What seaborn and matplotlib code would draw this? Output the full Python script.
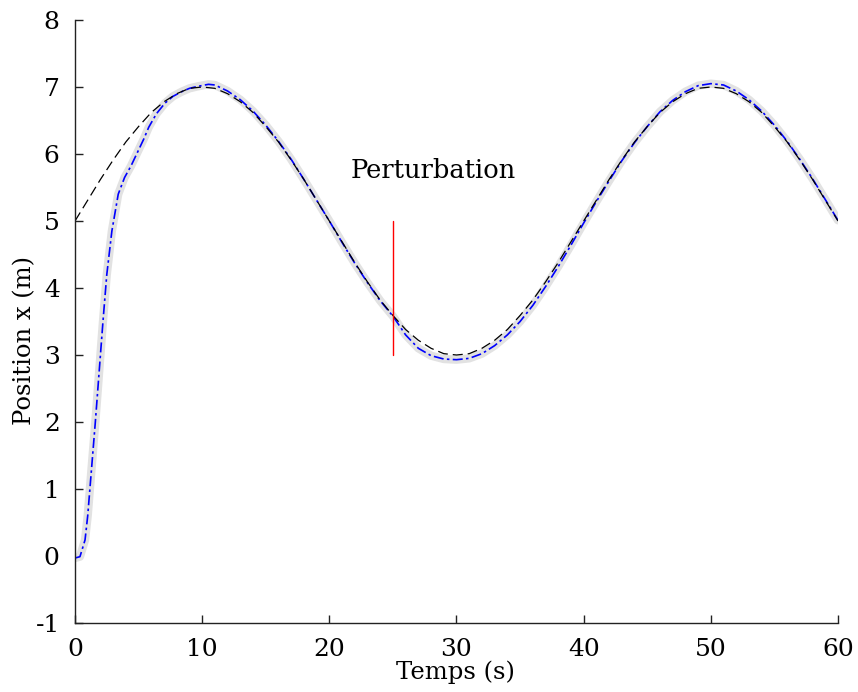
import numpy as np
import pandas as pd
import seaborn as sns
import matplotlib.pyplot as plt

# Reference trajectory (black dashed)
t_ref = list(range(0, 61))
x_ref = [5.00, 5.31, 5.62, 5.91, 6.18, 6.41, 6.62, 6.78, 6.90, 6.98,
         7.00, 6.98, 6.90, 6.78, 6.62, 6.41, 6.18, 5.91, 5.62, 5.31,
         5.00, 4.69, 4.38, 4.09, 3.82, 3.59, 3.38, 3.22, 3.10, 3.02,
         3.00, 3.02, 3.10, 3.22, 3.38, 3.59, 3.82, 4.09, 4.38, 4.69,
         5.00, 5.31, 5.62, 5.91, 6.18, 6.41, 6.62, 6.78, 6.90, 6.98,
         7.00, 6.98, 6.90, 6.78, 6.62, 6.41, 6.18, 5.91, 5.62, 5.31,
         5.00]

# Measured position (blue dash-dot over a grey band)
t_meas = [0, 0.39, 0.79, 1.0, 1.3, 1.6, 1.9, 2.2, 2.5, 2.9, 3.4, 3.9,
          4.4, 4.9, 5.4, 5.8, 6.4, 7.08, 7.7, 8.39, 9.0, 9.67, 10.5, 11,
          12, 13, 14, 15, 16, 17, 18, 19, 20, 21, 22, 23, 24, 25,
          26, 27, 28, 29, 30, 31, 32, 33, 34, 35, 36, 37, 38, 39, 40,
          41, 42, 43, 44, 45, 46, 47, 48, 49, 50, 51, 52, 53, 54, 55,
          56, 57, 58, 59, 60]
x_meas = [-0.03, -0.01, 0.24, 0.60, 1.30, 2.00, 2.75, 3.50, 4.20, 4.85, 5.40, 5.65,
          5.82, 6.02, 6.22, 6.40, 6.60, 6.76, 6.86, 6.93, 6.98, 7.01, 7.04, 7.03,
          6.94, 6.81, 6.64, 6.43, 6.19, 5.92, 5.62, 5.31, 5.00, 4.68, 4.37, 4.08, 3.81, 3.58,
          3.30, 3.10, 2.99, 2.94, 2.93, 2.95, 3.02, 3.14, 3.30, 3.50, 3.74, 4.02, 4.32, 4.64, 4.97,
          5.29, 5.60, 5.90, 6.17, 6.41, 6.63, 6.80, 6.93, 7.02, 7.05, 7.03, 6.94, 6.81, 6.64, 6.43,
          6.19, 5.92, 5.63, 5.32, 5.01]

# Perturbation marker
t_pert = 25
x_pert = [3, 5]

ref = pd.DataFrame({"t": t_ref, "x": x_ref})
meas = pd.DataFrame({"t": t_meas, "x": x_meas})

sns.set_theme(style="ticks")
plt.rcParams['font.family'] = ['DejaVu Serif']
plt.rcParams['axes.unicode_minus'] = False
plt.rcParams['text.color'] = 'black'
plt.rcParams['axes.labelcolor'] = 'black'
plt.rcParams['xtick.color'] = 'black'
plt.rcParams['ytick.color'] = 'black'

fig = plt.figure(figsize=(8.58, 6.92), dpi=100)
ax = fig.add_axes([0.0874, 0.0997, 0.8893, 0.8714])

sns.lineplot(data=meas, x="t", y="x", ax=ax, color="#e2e2e2", lw=6,
             sort=False, estimator=None, solid_capstyle="round")
sns.lineplot(data=meas, x="t", y="x", ax=ax, color="blue", lw=1.2,
             sort=False, estimator=None)
ax.lines[-1].set_linestyle((0, (6, 2, 1.5, 2)))
sns.lineplot(data=ref, x="t", y="x", ax=ax, color="black", lw=0.9,
             sort=False, estimator=None)
ax.lines[-1].set_linestyle((0, (8, 4)))
ax.plot([t_pert, t_pert], x_pert, color="red", lw=1)
ax.text(28.2, 5.75, "Perturbation", ha="center", va="center", fontsize=18.5,
        color="black")

ax.set_xlim(0, 60)
ax.set_ylim(-1, 8)
ax.set_xticks(range(0, 61, 10))
ax.set_yticks(range(-1, 9))
ax.tick_params(direction="in", length=6, width=1, labelsize=18,
               color="#222222", labelcolor="black")
ax.tick_params(axis="x", pad=11)
ax.tick_params(axis="y", pad=11)
for s in ["top", "right"]:
    ax.spines[s].set_visible(False)
for s in ["left", "bottom"]:
    ax.spines[s].set_color("#222222")
    ax.spines[s].set_linewidth(1)

ax.set_xlabel("Temps (s)", fontsize=17.5, color="black")
ax.set_ylabel("Position x (m)", fontsize=17.5, color="black")
ax.xaxis.set_label_coords(0.499, -0.081)
ax.xaxis.label.set_va("center")
ax.yaxis.set_label_coords(-0.0655, 0.469)
ax.yaxis.label.set_va("center")

fig.savefig("out.png", dpi=100)
